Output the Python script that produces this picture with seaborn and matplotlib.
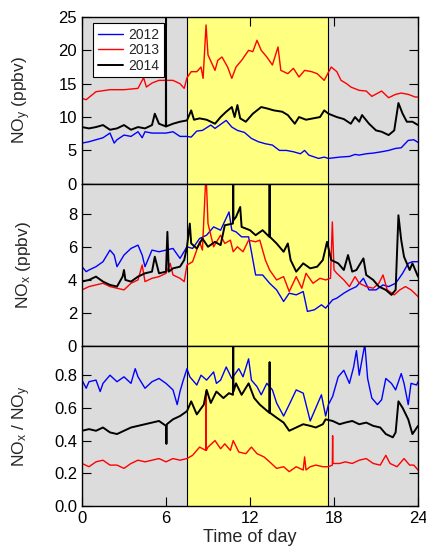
import numpy as np
import pandas as pd
import matplotlib
matplotlib.use('Agg')
import matplotlib.pyplot as plt
import seaborn as sns

sns.set_theme(style='ticks')
plt.rcParams['font.family'] = ['Liberation Sans', 'DejaVu Sans']
plt.rcParams['mathtext.fontset'] = 'custom'
plt.rcParams['mathtext.rm'] = 'Liberation Sans'
plt.rcParams['mathtext.it'] = 'Liberation Sans:italic'
plt.rcParams['mathtext.default'] = 'regular'

years = ['2012', '2013', '2014']
colors = {'2012': '#0000ff', '2013': '#ff0000', '2014': '#000000'}
widths = {'2012': 1.0, '2013': 1.0, '2014': 1.4}

# daytime window (shaded yellow)
day_start, day_end = 7.5, 17.6

# ---- NOy (ppbv) ----
noy_t_2012 = [0, 0.5, 1, 1.5, 2, 2.3, 2.5, 3, 3.5, 4, 4.3, 4.5, 5, 5.5, 6, 6.5, 7, 7.5, 7.8, 8.2,
              8.6, 9.2, 9.5, 10.3, 10.7, 11.1, 11.6, 12.1, 12.6, 13.1, 13.6, 14.1, 14.6, 15.1, 15.6, 15.9, 16.2, 16.9, 17.3, 17.6,
              18.4, 19.1, 19.5, 19.8, 20.3, 20.8, 21.4, 21.9, 22.4, 22.8, 23.3, 23.7, 24]
noy_v_2012 = [6.1, 6.3, 6.6, 6.9, 7.6, 6.1, 6.6, 7.3, 7.1, 7.8, 6.9, 7.8, 7.6, 7.6, 7.6, 7.8, 7.1, 7.1, 7.0, 7.9,
              8.0, 8.8, 8.3, 9.5, 8.5, 8.0, 7.7, 6.8, 6.3, 6.0, 5.8, 5.0, 5.0, 4.8, 4.5, 5.0, 4.3, 3.8, 4.0, 3.8,
              4.0, 4.1, 4.4, 4.3, 4.5, 4.6, 4.8, 5.0, 5.3, 5.4, 6.5, 6.6, 6.2]

noy_t_2013 = [0, 0.3, 1, 2, 3, 4, 4.4, 4.6, 5, 5.5, 6, 6.5, 7, 7.3, 7.5, 7.8, 8.2, 8.5, 8.65, 8.86,
              9.0, 9.5, 9.7, 10.0, 10.4, 10.7, 11.0, 11.4, 11.9, 12.2, 12.5, 12.8, 13.2, 13.6, 14.0, 14.2, 14.7, 15.1, 15.5, 15.9,
              16.4, 16.8, 17.3, 17.5, 17.8, 18.2, 18.5, 18.9, 19.2, 19.8, 20.3, 20.7, 21.4, 21.9, 22.4, 22.8, 23.3, 23.8, 24]
noy_v_2013 = [12.8, 12.6, 13.8, 14.1, 14.1, 14.3, 15.9, 14.5, 15.1, 15.5, 15.5, 15.5, 15.0, 14.3, 15.9, 16.8, 16.8, 17.5, 15.8, 23.8,
              19.3, 17.0, 18.5, 19.0, 17.5, 15.8, 17.5, 18.5, 20.0, 19.8, 21.5, 20.0, 19.0, 17.8, 20.5, 17.0, 16.5, 17.3, 16.0, 17.0,
              16.8, 16.5, 15.5, 16.3, 17.5, 16.8, 15.5, 15.0, 14.5, 14.0, 13.9, 13.1, 13.9, 12.9, 13.4, 13.6, 13.4, 13.0, 13.0]

noy_t_2014 = [0, 0.5, 1, 1.5, 2, 2.5, 3, 3.5, 4, 4.5, 5, 5.2, 5.5, 5.99, 6.0, 6.01, 6.5, 7, 7.5, 7.8,
              8.0, 8.4, 8.9, 9.5, 9.9, 10.3, 10.7, 10.9, 11.1, 11.3, 11.7, 12.2, 12.8, 13.2, 13.7, 14.3, 14.7, 15.2, 15.5, 16.0,
              16.5, 17.0, 17.3, 17.6, 18.2, 18.7, 19.2, 19.5, 19.8, 20.0, 20.5, 21.0, 21.4, 21.9, 22.3, 22.6, 22.9, 23.2, 23.6, 24]
noy_v_2014 = [8.5, 8.3, 8.5, 8.8, 8.1, 8.3, 8.8, 8.1, 8.5, 8.3, 8.8, 10.5, 9.0, 8.6, 26, 8.6, 9.0, 9.3, 9.5, 11.0,
              9.6, 9.8, 9.6, 9.0, 10.0, 10.8, 11.5, 10.0, 11.8, 9.8, 9.3, 10.5, 11.5, 11.3, 11.0, 10.8, 10.3, 9.0, 10.0, 9.6,
              9.8, 10.0, 11.0, 10.5, 10.0, 9.7, 9.0, 10.0, 9.3, 10.3, 9.0, 8.0, 7.8, 7.3, 8.0, 12.1, 10.5, 9.3, 9.3, 8.8]

# ---- NOx (ppbv) ----
nox_t_2012 = [0, 0.3, 0.5, 1, 1.5, 2, 2.3, 2.5, 3, 3.5, 4, 4.3, 4.5, 5, 5.5, 6, 6.5, 7, 7.5, 7.9,
              8.4, 8.9, 9.4, 9.9, 10.5, 10.7, 11.0, 11.4, 11.9, 12.1, 12.4, 12.9, 13.4, 13.9, 14.4, 14.8, 15.3, 15.8, 16.1, 16.6,
              17.1, 17.4, 17.9, 18.2, 18.7, 19.1, 19.6, 20.1, 20.5, 21.0, 21.5, 21.9, 22.4, 22.9, 23.3, 23.6, 24]
nox_v_2012 = [4.8, 4.5, 4.6, 4.8, 5.1, 5.8, 5.5, 4.8, 5.5, 5.9, 6.1, 5.5, 4.8, 5.8, 5.7, 5.8, 5.9, 5.3, 6.0, 5.9,
              6.5, 6.7, 7.2, 7.0, 8.1, 7.0, 6.9, 6.6, 6.6, 5.7, 4.3, 4.3, 3.8, 3.4, 2.7, 3.2, 3.1, 3.3, 2.1, 2.2,
              2.5, 2.3, 2.8, 2.9, 3.2, 3.4, 3.6, 4.1, 3.4, 3.4, 3.7, 3.6, 3.8, 4.4, 5.0, 5.1, 5.1]

nox_t_2013 = [0, 0.5, 1, 1.5, 2, 2.5, 3, 3.5, 4, 4.3, 4.5, 5, 5.5, 6, 6.3, 6.5, 7, 7.3, 7.5, 7.9,
              8.4, 8.6, 8.86, 9.0, 9.4, 9.9, 10.2, 10.6, 10.8, 11.1, 11.5, 11.9, 12.4, 12.7, 13.1, 13.4, 13.9, 14.4, 14.8, 15.3,
              15.7, 16.0, 16.5, 17.0, 17.4, 17.75, 17.88, 18.0, 18.2, 18.7, 19.1, 19.5, 19.8, 20.3, 20.8, 21.2, 21.5, 21.8, 22.3, 22.7,
              23.1, 23.5, 24]
nox_v_2013 = [3.4, 3.6, 3.7, 3.8, 3.6, 3.5, 3.4, 3.8, 4.0, 4.9, 3.9, 4.1, 4.2, 4.4, 5.0, 4.3, 4.1, 3.9, 4.9, 5.1,
              6.3, 5.8, 10.5, 7.4, 6.0, 6.7, 6.2, 6.4, 5.7, 6.0, 5.7, 6.4, 6.3, 6.4, 5.2, 4.6, 4.0, 4.2, 3.3, 4.2,
              3.5, 4.4, 3.8, 4.1, 4.0, 4.1, 7.5, 4.6, 4.4, 4.0, 3.6, 4.2, 3.8, 3.6, 3.5, 3.8, 4.3, 3.4, 3.1, 3.4,
              3.6, 3.4, 3.0]

nox_t_2014 = [0, 0.5, 1, 1.5, 2, 2.5, 2.9, 3.0, 3.1, 3.5, 4, 4.5, 5, 5.2, 5.5, 6.0, 6.1, 6.2, 6.5, 7.0,
              7.3, 7.5, 7.7, 7.8, 8.2, 8.6, 9.0, 9.5, 9.9, 10.2, 10.78, 10.8, 10.82, 11.0, 11.3, 11.4, 12.0, 12.4, 12.9, 13.38,
              13.4, 13.42, 13.9, 14.4, 14.7, 14.9, 15.3, 15.8, 16.3, 16.8, 17.2, 17.5, 17.8, 18.3, 18.7, 19.0, 19.3, 19.6, 20.1, 20.3,
              20.8, 21.2, 21.7, 22.1, 22.4, 22.6, 22.8, 23.0, 23.4, 23.6, 24]
nox_v_2014 = [3.9, 4.0, 4.2, 3.9, 3.7, 3.6, 4.2, 4.6, 4.0, 3.9, 4.2, 4.4, 4.5, 5.4, 4.4, 4.5, 6.9, 4.5, 4.7, 4.8,
              5.2, 6.0, 7.4, 6.2, 5.9, 6.5, 6.0, 6.3, 6.1, 7.3, 7.4, 10.5, 7.6, 7.8, 8.4, 7.2, 7.0, 6.7, 7.0, 6.6,
              10.5, 6.6, 6.2, 5.7, 6.2, 5.2, 4.5, 5.0, 4.7, 4.8, 5.2, 6.3, 5.2, 5.0, 4.6, 5.5, 4.5, 4.6, 5.3, 4.3,
              4.0, 3.6, 3.4, 3.1, 3.4, 7.9, 6.4, 5.4, 4.6, 5.0, 4.2]

# ---- NOx / NOy ----
rat_t_2012 = [0, 0.3, 0.5, 1, 1.3, 1.5, 2, 2.5, 3, 3.5, 3.8, 4, 4.5, 5, 5.5, 6, 6.5, 6.8, 7, 7.2,
              7.5, 7.7, 8.2, 8.5, 8.9, 9.4, 9.6, 9.9, 10.3, 10.7, 11.2, 11.5, 11.9, 12.1, 12.5, 12.8, 13.2, 13.6, 13.9, 14.4,
              14.8, 15.3, 15.8, 16.3, 16.7, 17.1, 17.4, 17.6, 17.9, 18.3, 18.7, 19.1, 19.4, 19.6, 19.8, 20.2, 20.4, 20.7, 21.1, 21.4,
              21.7, 22.1, 22.4, 22.8, 23.0, 23.3, 23.5, 23.9, 24]
rat_v_2012 = [0.77, 0.72, 0.76, 0.77, 0.70, 0.75, 0.80, 0.76, 0.79, 0.75, 0.84, 0.79, 0.72, 0.76, 0.78, 0.75, 0.71, 0.62, 0.70, 0.76,
              0.84, 0.79, 0.74, 0.80, 0.77, 0.82, 0.75, 0.77, 0.85, 0.78, 0.84, 0.79, 0.90, 0.77, 0.73, 0.68, 0.75, 0.71, 0.63, 0.55,
              0.62, 0.71, 0.69, 0.52, 0.60, 0.68, 0.55, 0.62, 0.67, 0.79, 0.83, 0.75, 0.85, 0.95, 0.80, 0.99, 0.78, 0.66, 0.62, 0.65,
              0.78, 0.75, 0.71, 0.81, 0.75, 0.62, 0.75, 0.74, 0.76]

rat_t_2013 = [0, 0.5, 1, 1.5, 2, 2.5, 3, 3.5, 4, 4.5, 5, 5.5, 6, 6.5, 7, 7.5, 7.9, 8.4, 8.84, 8.86,
              8.88, 9.0, 9.5, 9.9, 10.2, 10.6, 10.8, 11.2, 11.7, 12.1, 12.5, 13.0, 13.4, 13.9, 14.4, 14.8, 15.3, 15.8, 15.9, 16.0,
              16.3, 16.7, 17.2, 17.6, 17.88, 17.9, 17.92, 18.4, 18.8, 19.3, 19.8, 20.3, 20.8, 21.3, 21.7, 22.0, 22.5, 23.0, 23.4, 23.7,
              24]
rat_v_2013 = [0.26, 0.24, 0.27, 0.28, 0.25, 0.25, 0.23, 0.26, 0.28, 0.27, 0.28, 0.29, 0.27, 0.29, 0.28, 0.29, 0.31, 0.36, 0.34, 0.70,
              0.34, 0.36, 0.40, 0.35, 0.38, 0.34, 0.40, 0.33, 0.32, 0.36, 0.32, 0.30, 0.27, 0.23, 0.24, 0.21, 0.24, 0.22, 0.30, 0.22,
              0.24, 0.25, 0.24, 0.24, 0.25, 0.43, 0.26, 0.26, 0.27, 0.26, 0.28, 0.29, 0.26, 0.25, 0.31, 0.26, 0.24, 0.29, 0.25, 0.25,
              0.22]

rat_t_2014 = [0, 0.5, 1, 1.5, 2, 2.5, 3, 3.5, 4, 4.5, 5, 5.5, 6.0, 6.03, 6.06, 6.5, 7, 7.5, 7.8, 8.2,
              8.7, 8.9, 9.2, 9.6, 10.1, 10.5, 10.78, 10.8, 10.82, 11.0, 11.4, 11.9, 12.3, 12.7, 13.38, 13.4, 13.42, 13.9, 14.4, 14.8,
              15.3, 15.8, 16.3, 16.7, 17.2, 17.4, 17.9, 18.4, 18.8, 19.3, 19.8, 20.3, 20.8, 21.3, 21.7, 22.2, 22.4, 22.6, 22.9, 23.3,
              23.6, 24]
rat_v_2014 = [0.46, 0.47, 0.46, 0.48, 0.45, 0.44, 0.46, 0.48, 0.49, 0.50, 0.51, 0.52, 0.49, 0.38, 0.50, 0.53, 0.55, 0.58, 0.64, 0.56,
              0.62, 0.71, 0.63, 0.70, 0.66, 0.69, 0.68, 1.05, 0.70, 0.75, 0.68, 0.75, 0.66, 0.62, 0.57, 0.88, 0.57, 0.54, 0.51, 0.46,
              0.48, 0.50, 0.49, 0.48, 0.50, 0.53, 0.52, 0.50, 0.51, 0.52, 0.50, 0.51, 0.49, 0.48, 0.44, 0.42, 0.45, 0.64, 0.60, 0.53,
              0.44, 0.49]

x_ticks = [0, 6, 12, 18, 24]


def to_long(times, values):
    frames = []
    for yr in years:
        frames.append(pd.DataFrame({'time': times[yr], 'value': values[yr], 'year': yr}))
    return pd.concat(frames, ignore_index=True)


panels = [
    dict(df=to_long({'2012': noy_t_2012, '2013': noy_t_2013, '2014': noy_t_2014},
                    {'2012': noy_v_2012, '2013': noy_v_2013, '2014': noy_v_2014}),
         ylabel='NO$_y$ (ppbv)', ylim=(0, 25), yticks=[0, 5, 10, 15, 20, 25], fmt='{:.0f}',
         rect=[0.192, 0.664, 0.787, 0.305]),
    dict(df=to_long({'2012': nox_t_2012, '2013': nox_t_2013, '2014': nox_t_2014},
                    {'2012': nox_v_2012, '2013': nox_v_2013, '2014': nox_v_2014}),
         ylabel='NO$_x$ (ppbv)', ylim=(0, 9.8), yticks=[0, 2, 4, 6, 8], fmt='{:.0f}',
         rect=[0.192, 0.367, 0.787, 0.297]),
    dict(df=to_long({'2012': rat_t_2012, '2013': rat_t_2013, '2014': rat_t_2014},
                    {'2012': rat_v_2012, '2013': rat_v_2013, '2014': rat_v_2014}),
         ylabel='NO$_x$ / NO$_y$', ylim=(0, 0.977), yticks=[0, 0.2, 0.4, 0.6, 0.8], fmt='{:.1f}',
         rect=[0.192, 0.075, 0.787, 0.292]),
]

fig = plt.figure(figsize=(4.27, 5.47), dpi=100)

for i, p in enumerate(panels):
    ax = fig.add_axes(p['rect'])
    ax.axvspan(0, day_start, color='#dcdcdc', lw=0, zorder=0)
    ax.axvspan(day_start, day_end, color='#ffff80', lw=0, zorder=0)
    ax.axvspan(day_end, 24, color='#dcdcdc', lw=0, zorder=0)
    ax.axvline(day_start, color='black', lw=0.8, zorder=1)
    ax.axvline(day_end, color='black', lw=0.8, zorder=1)

    for yr in years:
        sub = p['df'][p['df']['year'] == yr]
        sns.lineplot(data=sub, x='time', y='value', color=colors[yr], lw=widths[yr],
                     estimator=None, sort=False, ax=ax, label=yr, legend=False, zorder=3)

    ax.set_xlim(0, 24)
    ax.set_ylim(*p['ylim'])
    ax.set_xticks(x_ticks)
    ax.set_yticks(p['yticks'])
    ax.set_yticklabels([p['fmt'].format(v) for v in p['yticks']])
    ax.set_ylabel(p['ylabel'], fontsize=12.5)
    ax.yaxis.set_label_coords(-0.145, 0.5)
    ax.tick_params(axis='y', direction='in', length=6.5, width=0.8, left=True, right=True,
                   labelsize=12, colors='black')
    last = i == len(panels) - 1
    ax.tick_params(axis='x', direction='in', length=6.5, width=0.8, top=(i == 0), bottom=last,
                   labelbottom=last, labelsize=12, colors='black')
    for s in ax.spines.values():
        s.set_color('black')
        s.set_linewidth(1.0)
        s.set_zorder(5)
    if last:
        ax.set_xlabel('Time of day', fontsize=13, labelpad=2)
    else:
        ax.set_xlabel('')
    if i == 0:
        leg = ax.legend(loc='upper left', bbox_to_anchor=(0.033, 0.964), borderaxespad=0,
                        fontsize=10, frameon=True, fancybox=False, framealpha=1,
                        edgecolor='black', handlelength=1.8, handletextpad=0.4,
                        labelspacing=0.1, borderpad=0.35)
        leg.get_frame().set_linewidth(0.8)
        leg.set_zorder(6)

fig.savefig('out.png', dpi=100)
